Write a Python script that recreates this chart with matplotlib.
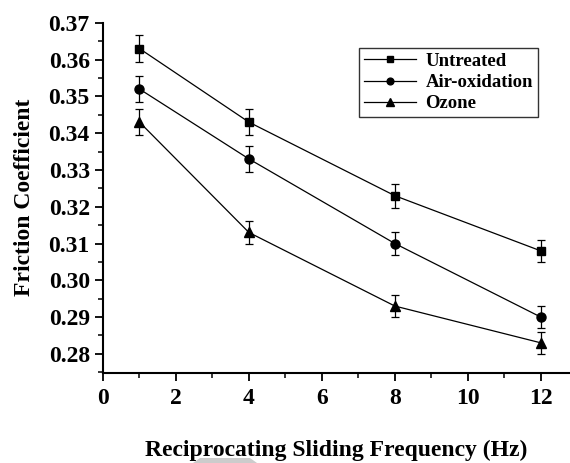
import matplotlib
matplotlib.use('Agg')
import matplotlib.pyplot as plt
from matplotlib.lines import Line2D
from matplotlib.patches import Polygon
from matplotlib.ticker import MultipleLocator, FormatStrFormatter

plt.rcParams['font.family'] = 'Liberation Serif'
plt.rcParams['font.weight'] = 'bold'

freq = [1, 4, 8, 12]
untreated = [0.363, 0.343, 0.323, 0.308]
air_oxidation = [0.352, 0.333, 0.310, 0.290]
ozone = [0.343, 0.313, 0.293, 0.283]
err_untreated = [0.0036, 0.0035, 0.0033, 0.003]
err_air = [0.0036, 0.0035, 0.003, 0.003]
err_ozone = [0.0036, 0.003, 0.003, 0.003]

series = [
    ('Untreated', untreated, err_untreated, 's', 5.5),
    ('Air-oxidation', air_oxidation, err_air, 'o', 6.5),
    ('Ozone', ozone, err_ozone, '^', 7),
]

fig = plt.figure(figsize=(5.70, 4.63), dpi=100)
ax = fig.add_axes([103 / 570, 1 - 373 / 463, 467 / 570, (373 - 21) / 463])

handles = []
for name, vals, errs, marker, ms in series:
    ax.errorbar(freq, vals, yerr=errs, color='black', lw=0.9, marker=marker,
                markersize=ms, capsize=3, elinewidth=0.9, capthick=0.9)
    handles.append(Line2D([], [], color='black', lw=0.9, marker=marker, markersize=ms * 0.75, label=name))

ax.set_xlim(0, 12.8)
ax.set_ylim(0.2748, 0.3705)
ax.xaxis.set_major_locator(MultipleLocator(2))
ax.xaxis.set_minor_locator(MultipleLocator(1))
ax.yaxis.set_major_locator(MultipleLocator(0.01))
ax.yaxis.set_minor_locator(MultipleLocator(0.005))
ax.yaxis.set_major_formatter(FormatStrFormatter('%.2f'))

for s in ['top', 'right']:
    ax.spines[s].set_visible(False)
for s in ['left', 'bottom']:
    ax.spines[s].set_linewidth(1.5)
ax.spines['left'].set_bounds(0.2748, 0.37)

ax.tick_params(axis='both', which='major', direction='out', length=6, width=1.3, labelsize=17)
ax.tick_params(axis='both', which='minor', direction='out', length=3.5, width=1.1)
ax.tick_params(axis='x', which='major', pad=5)

ax.set_ylabel('Friction Coefficient', fontsize=17, fontweight='bold', labelpad=10)
ax.set_xlabel('Reciprocating Sliding Frequency (Hz)', fontsize=17, fontweight='bold', labelpad=22)

leg = ax.legend(handles=handles, loc='upper right', bbox_to_anchor=(0.931, 0.923), borderaxespad=0,
                fontsize=13.5, frameon=True, fancybox=False, edgecolor='black', handlelength=2.8,
                handletextpad=0.5, borderpad=0.25, labelspacing=0.22)
leg.get_frame().set_linewidth(1.0)

# grey smudge under the x label
fig.patches.append(Polygon([(193 / 570, 0), (200 / 570, 5 / 463), (250 / 570, 5 / 463), (257 / 570, 0)],
                           closed=True, transform=fig.transFigure, facecolor='#cccccc',
                           edgecolor='none', zorder=-1))

fig.savefig('out.png', dpi=100)
